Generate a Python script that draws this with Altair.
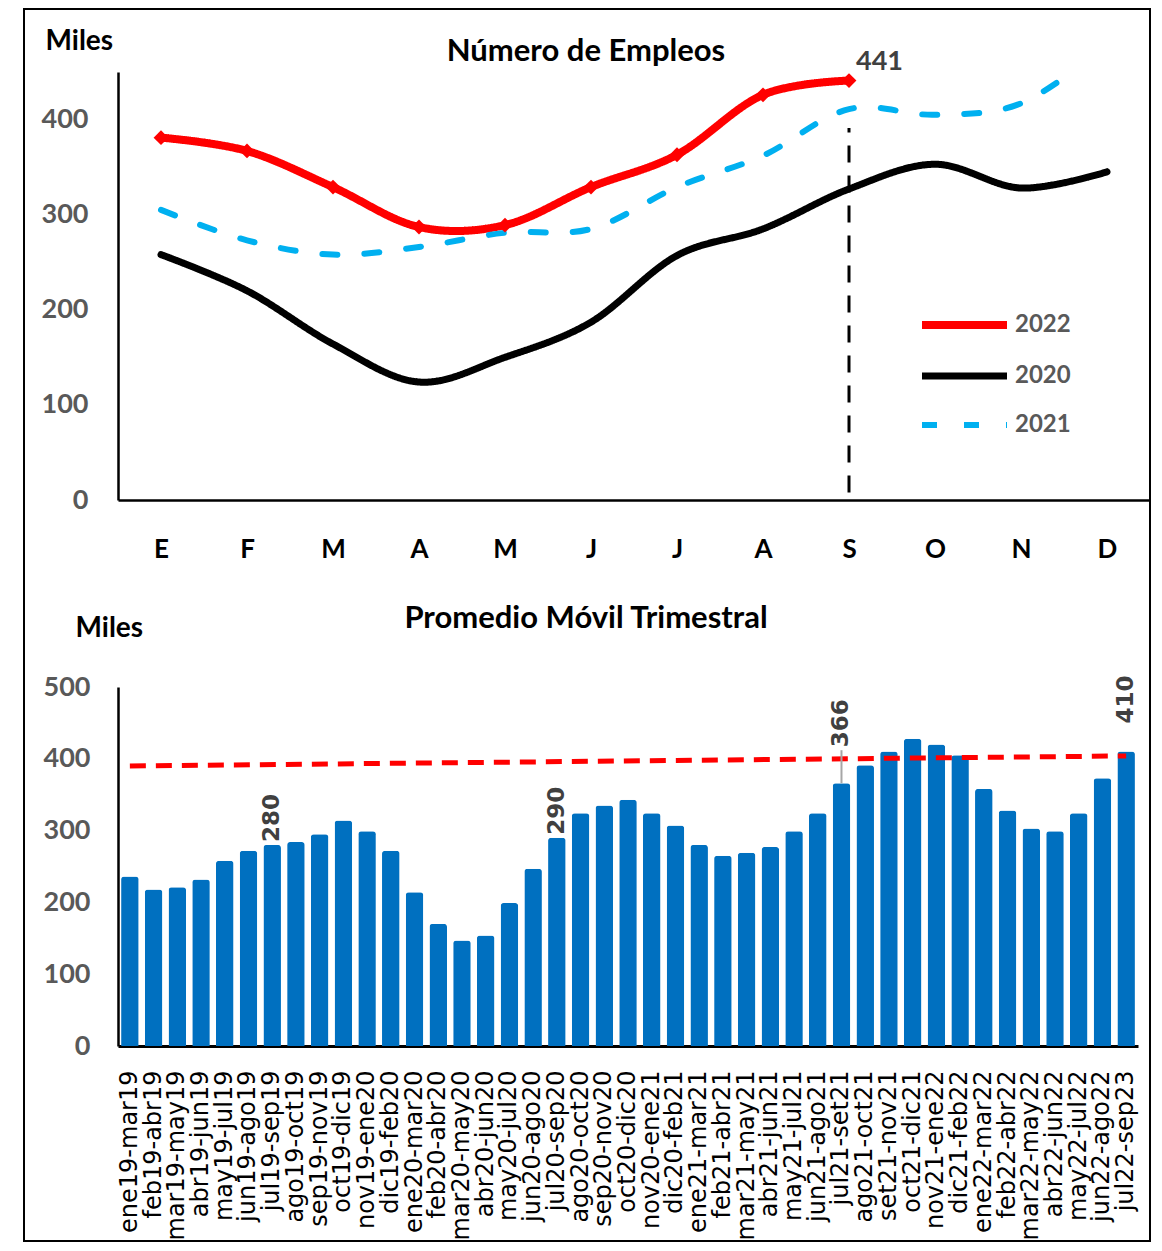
import altair as alt
import pandas as pd

# ---------------- data: top chart ----------------
meses = ["Ene", "Feb", "Mar", "Abr", "May", "Jun", "Jul", "Ago", "Sep", "Oct", "Nov", "Dic"]
iniciales = ["E", "F", "M", "A", "M", "J", "J", "A", "S", "O", "N", "D"]
series_orden = ["2022", "2020", "2021"]
v2022 = [381, 367, 329, 287, 289, 329, 363, 426, 441]
v2020 = [258, 220, 164, 124, 150, 187, 257, 285, 327, 353, 328, 345]
v2021 = [305, 273, 258, 266, 281, 285, 329, 362, 411, 405, 417, 478]
corte_mes = ["Sep"]
corte_desde = [8]
corte_hasta = [391]

# ---------------- data: bottom chart ----------------
trimestres = [
    "ene19-mar19", "feb19-abr19", "mar19-may19", "abr19-jun19", "may19-jul19",
    "jun19-ago19", "jul19-sep19", "ago19-oct19", "sep19-nov19", "oct19-dic19",
    "nov19-ene20", "dic19-feb20", "ene20-mar20", "feb20-abr20", "mar20-may20",
    "abr20-jun20", "may20-jul20", "jun20-ago20", "jul20-sep20", "ago20-oct20",
    "sep20-nov20", "oct20-dic20", "nov20-ene21", "dic20-feb21", "ene21-mar21",
    "feb21-abr21", "mar21-may21", "abr21-jun21", "may21-jul21", "jun21-ago21",
    "jul21-set21", "ago21-oct21", "set21-nov21", "oct21-dic21", "nov21-ene22",
    "dic21-feb22", "ene22-mar22", "feb22-abr22", "mar22-may22", "abr22-jun22",
    "may22-jul22", "jun22-ago22", "jul22-sep23",
]
promedio = [236, 218, 221, 232, 258, 272, 280, 284, 295, 314,
            299, 272, 214, 170, 147, 154, 199, 247, 290, 324,
            335, 343, 324, 307, 280, 265, 269, 277, 299, 324,
            366, 391, 410, 428, 420, 405, 358, 328, 303, 299,
            324, 373, 410]
tendencia = [390, 404]
etiquetas_cerca = ["jul19-sep19", "jul20-sep20"]
etiqueta_guia = ["jul21-set21"]
etiqueta_final = ["jul22-sep23"]

titulos = ["Número de Empleos", "Promedio Móvil Trimestral"]
unidad = "Miles"

# ---------------- tables ----------------
rows = []
for serie, vals in zip(["2022", "2020", "2021"], [v2022, v2020, v2021]):
    for m, v in zip(meses, vals):
        rows.append({"mes": m, "serie": serie, "valor": v})
df_top = pd.DataFrame(rows)
df_2022 = df_top[df_top.serie == "2022"]
df_441 = df_2022.tail(1)
df_corte = pd.DataFrame({"mes": corte_mes, "desde": corte_desde, "hasta": corte_hasta})

df_bot = pd.DataFrame({"trimestre": trimestres, "valor": promedio})
df_tend = pd.DataFrame({"trimestre": [trimestres[0], trimestres[-1]], "valor": tendencia})
df_cerca = df_bot[df_bot.trimestre.isin(etiquetas_cerca)]
df_guia = df_bot[df_bot.trimestre.isin(etiqueta_guia)]
df_final = df_bot[df_bot.trimestre.isin(etiqueta_final)]

FONT = "Lato"
GRAY = "#595959"
DARK = "#404040"

label_expr = "{" + ",".join(f"'{m}':'{i}'" for m, i in zip(meses, iniciales)) + "}[datum.value]"

# ---------------- top chart ----------------
x_top = alt.X("mes:N", sort=meses, scale=alt.Scale(type="point", padding=0.5),
              axis=alt.Axis(title=None, labelExpr=label_expr, labelFont=FONT, labelFontSize=26,
                            labelFontWeight="bold", labelColor="black", labelPadding=36,
                            labelAngle=0, ticks=False, domainColor="black", domainWidth=2.5))
y_top = alt.Y("valor:Q", scale=alt.Scale(domain=[0, 450], nice=False),
              axis=alt.Axis(values=[0, 100, 200, 300, 400], title=unidad, titleAngle=0,
                            titleAlign="left", titleBaseline="alphabetic", titleX=-73, titleY=-23,
                            titleFont=FONT, titleFontSize=28, titleFontWeight="bold",
                            titleColor="black", labelFont=FONT, labelFontSize=27,
                            labelFontWeight="bold", labelColor=GRAY, labelPadding=30,
                            ticks=False, grid=False, domainColor="black", domainWidth=2.5))

leyenda = alt.Legend(title=None, orient="none", legendX=800, legendY=232,
                     symbolType="M-1,0L4,0", symbolSize=1156, labelFont=FONT,
                     labelFontSize=24, labelFontWeight="bold", labelColor=GRAY,
                     labelOffset=55, rowPadding=14.5, padding=0)

lineas = alt.Chart(df_top).mark_line(interpolate="cardinal", strokeCap="round", clip=True).encode(
    x=x_top, y=y_top,
    color=alt.Color("serie:N", scale=alt.Scale(domain=series_orden,
                                                range=["#FF0000", "#000000", "#00B0F0"]),
                    legend=leyenda),
    strokeDash=alt.StrokeDash("serie:N", scale=alt.Scale(domain=series_orden,
                                                         range=[[1, 0], [1, 0], [15, 27]]),
                              legend=leyenda),
    strokeWidth=alt.StrokeWidth("serie:N", scale=alt.Scale(domain=series_orden, range=[8, 6, 6]),
                                legend=leyenda),
)

puntos = alt.Chart(df_2022).mark_point(shape="diamond", filled=True, size=220, color="#FF0000",
                                       opacity=1).encode(x=x_top, y=y_top)

etq441 = alt.Chart(df_441).mark_text(align="left", baseline="bottom", dx=7, dy=-5, font=FONT,
                                     fontSize=27, fontWeight="bold", color=DARK).encode(
    x=x_top, y=y_top, text="valor:Q")

corte = alt.Chart(df_corte).mark_rule(color="black", strokeWidth=3, strokeDash=[17, 13]).encode(
    x=x_top, y=alt.Y("desde:Q"), y2="hasta:Q")

titulo_top = alt.Chart(pd.DataFrame({"t": [titulos[0]]})).mark_text(
    align="center", baseline="alphabetic", font=FONT, fontSize=31, fontWeight="bold",
    color="black").encode(x=alt.value(468), y=alt.value(-11), text="t:N")

marco = alt.Chart(pd.DataFrame({"k": [1]})).mark_rect(
    fillOpacity=0, stroke="black", strokeWidth=2).encode(
    x=alt.value(-94), x2=alt.value(1032), y=alt.value(-63), y2=alt.value(1169))

top = alt.layer(marco, lineas, corte, puntos, etq441, titulo_top).properties(width=1032, height=428)

# ---------------- bottom chart ----------------
x_bot = alt.X("trimestre:N", sort=trimestres,
              scale=alt.Scale(paddingInner=0.26, paddingOuter=0.13),
              axis=alt.Axis(title=None, labelAngle=-90, labelFont="DejaVu Sans", labelFontSize=24,
                            labelColor="black", labelPadding=24, ticks=False, domainColor="black",
                            domainWidth=3, labelOverlap=False))
y_bot = alt.Y("valor:Q", scale=alt.Scale(domain=[0, 500], nice=False),
              axis=alt.Axis(values=[0, 100, 200, 300, 400, 500], title=unidad, titleAngle=0,
                            titleAlign="left", titleBaseline="alphabetic", titleX=-43, titleY=-51,
                            titleFont=FONT, titleFontSize=28, titleFontWeight="bold",
                            titleColor="black", labelFont=FONT, labelFontSize=27,
                            labelFontWeight="bold", labelColor=GRAY, labelPadding=28,
                            ticks=False, grid=False, domainColor="black", domainWidth=2.5))

barras = alt.Chart(df_bot).mark_bar(color="#0070C0", cornerRadiusTopLeft=3,
                                    cornerRadiusTopRight=3).encode(x=x_bot, y=y_bot)
tend = alt.Chart(df_tend).mark_line(color="#FF0000", strokeWidth=5, strokeDash=[16, 10]).encode(
    x=x_bot, y=y_bot)

txt_style = dict(angle=270, align="left", baseline="middle", font="DejaVu Sans", fontSize=23,
                 fontWeight="bold", color=DARK)
etq_cerca = alt.Chart(df_cerca).mark_text(dx=3, **txt_style).encode(x=x_bot, y=y_bot, text="valor:Q")
guia = alt.Chart(df_guia).mark_rule(color="#A6A6A6", strokeWidth=2, y2Offset=-33).encode(
    x=x_bot, y=y_bot, y2="valor:Q")
etq_guia = alt.Chart(df_guia).mark_text(dx=36, **txt_style).encode(x=x_bot, y=y_bot, text="valor:Q")
etq_final = alt.Chart(df_final).mark_text(dx=28, **txt_style).encode(x=x_bot, y=y_bot, text="valor:Q")

titulo_bot = alt.Chart(pd.DataFrame({"t": [titulos[1]]})).mark_text(
    align="center", baseline="alphabetic", font=FONT, fontSize=31, fontWeight="bold",
    color="black").encode(x=alt.value(468), y=alt.value(-59), text="t:N")

bottom = alt.layer(barras, tend, guia, etq_cerca, etq_guia, etq_final, titulo_bot).properties(
    width=1020, height=359)

chart = alt.vconcat(top, bottom, spacing=187, bounds="flush").properties(
    padding={"left": 15, "top": 0, "right": 0, "bottom": 0},
    background="white",
).configure_view(stroke=None).configure_legend(
    labelFont=FONT, labelFontWeight="bold", labelFontSize=24, labelColor=GRAY)

chart.save("out.html", embed_options={"renderer": "svg", "actions": False})
